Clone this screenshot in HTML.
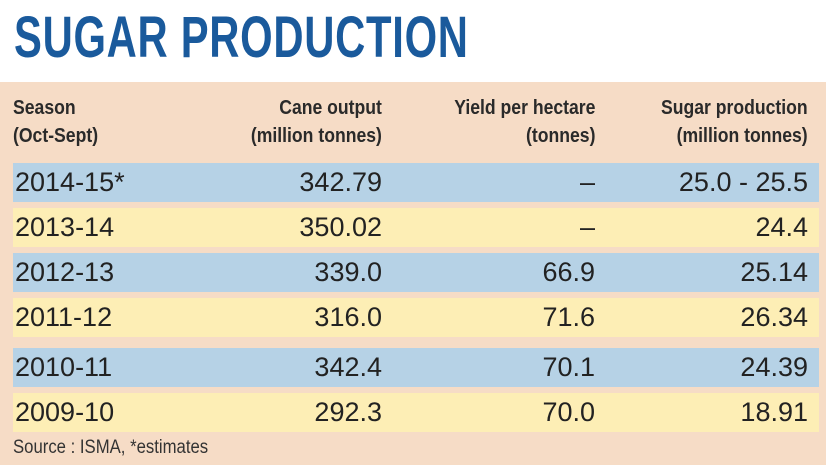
<!DOCTYPE html>
<html><head><meta charset="utf-8"><style>
html,body{margin:0;padding:0;width:826px;height:465px;overflow:hidden;background:#fff;font-family:"Liberation Sans",sans-serif}
.title{position:absolute;left:14px;top:4px;font-size:58px;font-weight:bold;color:#1a5a9c;transform:scaleX(0.72);transform-origin:left top;white-space:nowrap;letter-spacing:1px}
.panel{position:absolute;left:0;top:82px;width:826px;height:383px;background:#f6dcc6}
.hdr{position:absolute;top:94px;font-size:20px;font-weight:600;color:#2a2a2a;line-height:28px;transform:scaleX(0.88);white-space:nowrap}
.row{position:absolute;left:13px;width:806px;height:39px}
.b{background:#b6d2e6}.y{background:#fdeeb5}
.c{position:absolute;top:163px;font-size:27px;color:#222;line-height:39px;white-space:nowrap}
.src{position:absolute;left:13px;top:437px;font-size:19px;color:#333;transform:scaleX(0.88);transform-origin:left top;white-space:nowrap}
</style></head><body>
<div class="title">SUGAR PRODUCTION</div>
<div class="panel"></div>
<div class="hdr" style="left:13px;transform-origin:left top">Season<br>(Oct-Sept)</div>
<div class="hdr" style="right:444px;text-align:right;transform-origin:right top">Cane output<br>(million tonnes)</div>
<div class="hdr" style="right:231px;text-align:right;transform-origin:right top">Yield per hectare<br>(tonnes)</div>
<div class="hdr" style="right:18px;text-align:right;transform-origin:right top">Sugar production<br>(million tonnes)</div>
<div class="row b" style="top:163px"></div>
<div class="row y" style="top:208px"></div>
<div class="row b" style="top:253px"></div>
<div class="row y" style="top:298px"></div>
<div class="row b" style="top:348px"></div>
<div class="row y" style="top:393px"></div>
<div style="position:absolute;left:0;top:0">
<div class="c" style="left:15px;top:163px">2014-15*</div><div class="c" style="right:-382px;top:163px;text-align:right">342.79</div><div class="c" style="right:-595px;top:163px">–</div><div class="c" style="right:-808px;top:163px">25.0 - 25.5</div>
<div class="c" style="left:15px;top:208px">2013-14</div><div class="c" style="right:-382px;top:208px">350.02</div><div class="c" style="right:-595px;top:208px">–</div><div class="c" style="right:-808px;top:208px">24.4</div>
<div class="c" style="left:15px;top:253px">2012-13</div><div class="c" style="right:-382px;top:253px">339.0</div><div class="c" style="right:-595px;top:253px">66.9</div><div class="c" style="right:-808px;top:253px">25.14</div>
<div class="c" style="left:15px;top:298px">2011-12</div><div class="c" style="right:-382px;top:298px">316.0</div><div class="c" style="right:-595px;top:298px">71.6</div><div class="c" style="right:-808px;top:298px">26.34</div>
<div class="c" style="left:15px;top:348px">2010-11</div><div class="c" style="right:-382px;top:348px">342.4</div><div class="c" style="right:-595px;top:348px">70.1</div><div class="c" style="right:-808px;top:348px">24.39</div>
<div class="c" style="left:15px;top:393px">2009-10</div><div class="c" style="right:-382px;top:393px">292.3</div><div class="c" style="right:-595px;top:393px">70.0</div><div class="c" style="right:-808px;top:393px">18.91</div>
</div>
<div class="src">Source : ISMA, *estimates</div>
</body></html>
